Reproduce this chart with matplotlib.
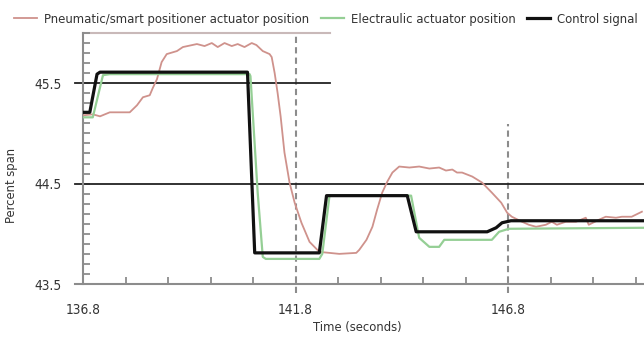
import matplotlib.pyplot as plt

plt.rcParams['font.family'] = 'DejaVu Sans'
plt.rcParams['font.stretch'] = 'condensed'

# readings (time in seconds, percent span)
control_t = [136.80, 136.96, 137.13, 137.20, 140.67, 140.84, 142.36, 142.53, 144.43, 144.64,
             146.31, 146.52, 146.66, 146.87, 150.00]
control_v = [45.21, 45.21, 45.59, 45.61, 45.61, 43.81, 43.81, 44.38, 44.38, 44.02,
             44.02, 44.06, 44.11, 44.13, 44.13]

electraulic_t = [136.80, 137.03, 137.27, 137.43, 140.72, 140.74, 140.91, 141.03, 141.10, 142.36,
                 142.43, 142.60, 144.52, 144.71, 144.95, 145.18, 145.30, 146.42, 146.59, 146.82, 150.00]
electraulic_v = [45.16, 45.16, 45.58, 45.59, 45.59, 45.57, 44.41, 43.77, 43.75, 43.75,
                 43.80, 44.38, 44.38, 43.96, 43.87, 43.87, 43.94, 43.94, 44.02, 44.05, 44.06]

pneumatic_t = [136.80, 137.03, 137.20, 137.43, 137.90, 138.07, 138.21, 138.37, 138.44, 138.54,
               138.65, 138.77, 139.01, 139.15, 139.48, 139.66, 139.83, 139.97, 140.13, 140.30,
               140.44, 140.60, 140.77, 140.88, 141.03, 141.19, 141.24, 141.31, 141.38, 141.45,
               141.54, 141.66, 141.78, 141.94, 142.13, 142.36, 142.83, 143.23, 143.30, 143.47,
               143.61, 143.72, 143.84, 143.96, 144.08, 144.24, 144.48, 144.71, 144.95, 145.18,
               145.34, 145.49, 145.60, 145.72, 145.84, 145.96, 146.19, 146.42, 146.64, 146.78,
               146.89, 147.13, 147.29, 147.46, 147.69, 147.83, 147.95, 148.16, 148.40, 148.63,
               148.70, 148.94, 149.10, 149.34, 149.48, 149.71, 149.95]
pneumatic_v = [45.18, 45.19, 45.17, 45.21, 45.21, 45.28, 45.36, 45.38, 45.45, 45.54,
               45.71, 45.79, 45.82, 45.86, 45.89, 45.87, 45.90, 45.86, 45.90, 45.87,
               45.89, 45.86, 45.90, 45.88, 45.82, 45.79, 45.76, 45.60, 45.40, 45.17,
               44.81, 44.51, 44.31, 44.11, 43.92, 43.82, 43.80, 43.81, 43.84, 43.94,
               44.07, 44.24, 44.41, 44.52, 44.61, 44.67, 44.66, 44.67, 44.65, 44.66,
               44.63, 44.64, 44.61, 44.61, 44.59, 44.57, 44.51, 44.41, 44.31, 44.21,
               44.17, 44.12, 44.09, 44.07, 44.09, 44.12, 44.09, 44.12, 44.12, 44.16,
               44.09, 44.14, 44.17, 44.16, 44.17, 44.17, 44.22]

x_labels = [136.8, 141.8, 146.8]
y_labels = [43.5, 44.5, 45.5]

PINK = '#cf928c'
GREEN = '#95cf95'
GREY = '#8c8c8c'
TEXT = '#333333'

fig = plt.figure(figsize=(6.44, 3.38), dpi=100)
ax = fig.add_axes([83 / 644, 54 / 338, 561 / 644, 251 / 338])
ax.set_xlim(136.8, 150.0)
ax.set_ylim(43.5, 46.0)

for s in ['top', 'right', 'bottom']:
    ax.spines[s].set_visible(False)
ax.spines['left'].set_color(GREY)
ax.spines['left'].set_linewidth(1.5)

# reference lines and frame pieces
ax.plot([136.61, 150.0], [43.5, 43.5], color=GREY, lw=1.5, clip_on=False, zorder=1)
ax.plot([136.8, 142.6], [46.0, 46.0], color='#c9b9b9', lw=1.5, clip_on=False, zorder=1)
ax.plot([136.61, 142.6], [45.5, 45.5], color='#222222', lw=1.3, clip_on=False, zorder=2)
ax.plot([136.61, 150.0], [44.5, 44.5], color='#222222', lw=1.3, clip_on=False, zorder=2)
ax.plot([141.8, 141.8], [43.41, 46.0], color=GREY, lw=1.5, ls=(0, (3, 2)), clip_on=False, zorder=1)
ax.plot([146.8, 146.8], [43.41, 45.09], color=GREY, lw=1.5, ls=(0, (3, 2)), clip_on=False, zorder=1)

ax.plot(pneumatic_t, pneumatic_v, color=PINK, lw=1.3, zorder=3,
        label='Pneumatic/smart positioner actuator position')
ax.plot(electraulic_t, electraulic_v, color=GREEN, lw=1.6, zorder=4,
        label='Electraulic actuator position')
ax.plot(control_t, control_v, color='#111111', lw=2.3, zorder=5, label='Control signal')

ax.set_xticks(x_labels)
ax.set_xticklabels([f'{v:.1f}' for v in x_labels])
ax.set_xticks([136.8 + i for i in range(14)], minor=True)
ax.set_yticks(y_labels)
ax.set_yticklabels([f'{v:.1f}' for v in y_labels])
ax.set_yticks([43.5 + i * 0.1 for i in range(26)], minor=True)
ax.tick_params(axis='x', which='both', direction='in', length=5, width=1.3, color=GREY,
               pad=14, labelsize=9.8, labelcolor=TEXT)
ax.tick_params(axis='y', which='both', direction='in', length=5, width=1.3, color=GREY,
               pad=15, labelsize=9.8, labelcolor=TEXT)

fig.text(357 / 644, 1 - 327 / 338, 'Time (seconds)', ha='center', va='center',
         fontsize=9.3, color=TEXT)
fig.text(12 / 644, 1 - 185 / 338, 'Percent span', ha='center', va='center',
         rotation=90, fontsize=9.3, color=TEXT)

fig.legend(loc='center left', bbox_to_anchor=(14 / 644, 1 - 19 / 338), ncol=3, frameon=False,
           fontsize=9.4, handlelength=1.76, handletextpad=0.54, columnspacing=0.9,
           borderaxespad=0, borderpad=0, labelcolor=TEXT)

fig.savefig('out.png', dpi=100)
